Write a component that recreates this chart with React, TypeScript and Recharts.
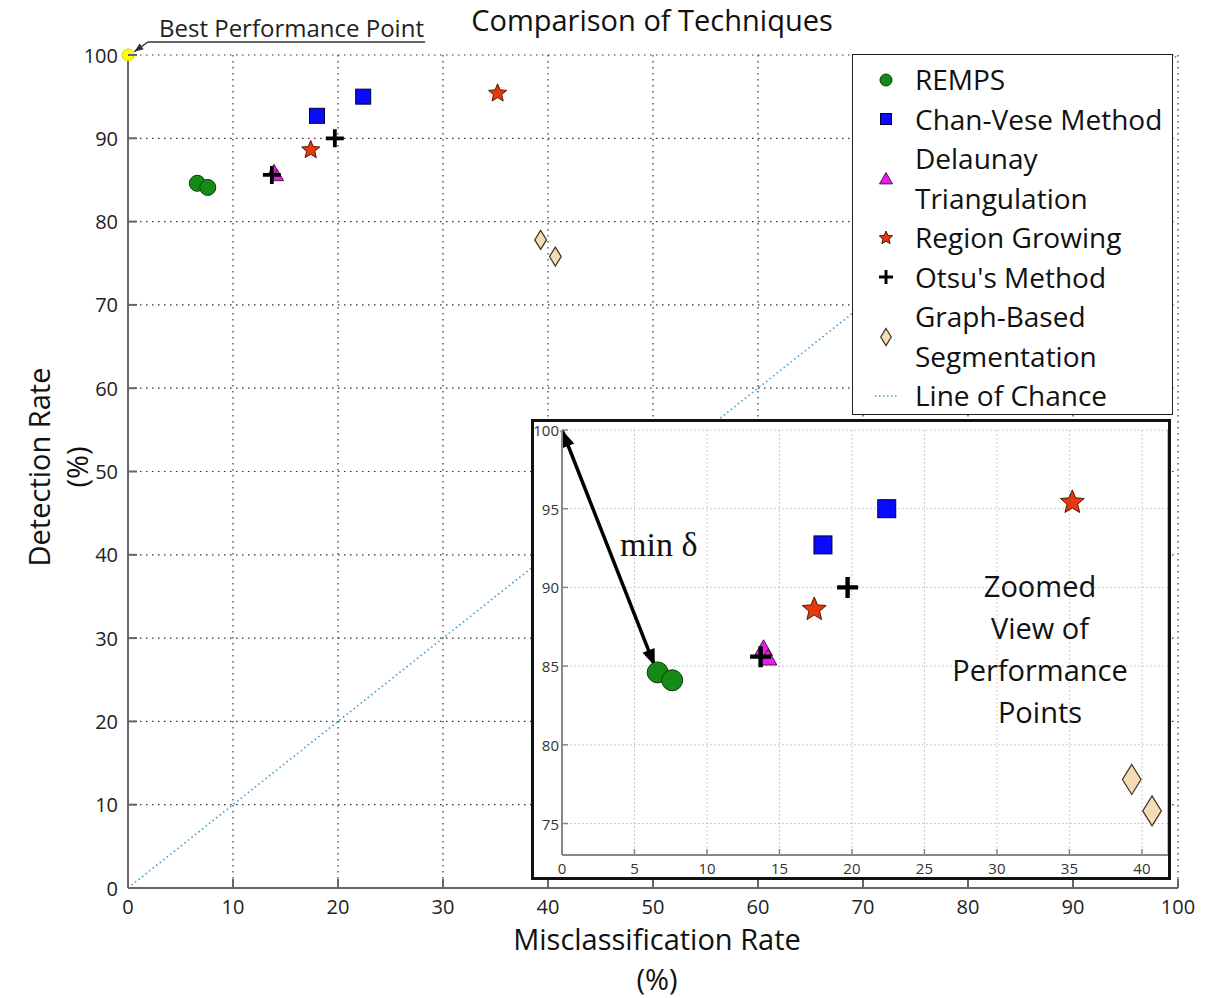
import React from 'react';
import { ScatterChart, Scatter, XAxis, YAxis, CartesianGrid, ReferenceLine, Legend } from 'recharts';

// axis ticks
const mainTicks = [0, 10, 20, 30, 40, 50, 60, 70, 80, 90, 100];
const zoomXTicks = [0, 5, 10, 15, 20, 25, 30, 35, 40];
const zoomYTicks = [75, 80, 85, 90, 95, 100];

// performance points (misclassification %, detection %)
const remps = [{ x: 6.6, y: 84.6 }, { x: 7.6, y: 84.1 }];
const chanVese = [{ x: 18.0, y: 92.7 }, { x: 22.4, y: 95.0 }];
const delaunay = [{ x: 13.9, y: 86.1 }, { x: 14.2, y: 85.5 }];
const regionGrowing = [{ x: 17.4, y: 88.6 }, { x: 35.2, y: 95.4 }];
const otsu = [{ x: 13.7, y: 85.6 }, { x: 19.7, y: 90.0 }];
const graphBased = [{ x: 39.3, y: 77.8 }, { x: 40.7, y: 75.8 }];
const lineOfChance = [{ x: 0, y: 0 }, { x: 100, y: 100 }];
const bestPoint = [{ x: 0, y: 100 }];

// annotations
const bestUnderline = [{ x: 1.9, y: 101.56 }, { x: 28.3, y: 101.56 }];
const bestArrow = [{ x: 1.9, y: 101.56 }, { x: 0.6, y: 100.4 }];
const minDelta = [{ x: 0, y: 100 }, { x: 6.4, y: 85.0 }];

const FONT = '"Open Sans", Lato, sans-serif';
const NARROW = '"Liberation Sans Narrow", "Open Sans", sans-serif';

type Kind = 'circle' | 'square' | 'triangle' | 'star' | 'plus' | 'diamond';

const series: { name: string[]; data: { x: number; y: number }[]; kind: Kind; fill: string; stroke: string; main: number; zoom: number; leg: number }[] = [
  { name: ['REMPS'], data: remps, kind: 'circle', fill: '#168a16', stroke: '#0b3a0b', main: 16, zoom: 21, leg: 12 },
  { name: ['Chan-Vese Method'], data: chanVese, kind: 'square', fill: '#0a0aff', stroke: '#000033', main: 15, zoom: 18, leg: 11 },
  { name: ['Delaunay', 'Triangulation'], data: delaunay, kind: 'triangle', fill: '#e81ee8', stroke: '#4a1a4a', main: 13, zoom: 18, leg: 13 },
  { name: ['Region Growing'], data: regionGrowing, kind: 'star', fill: '#e8380e', stroke: '#4a1a08', main: 19, zoom: 25, leg: 14 },
  { name: ["Otsu's Method"], data: otsu, kind: 'plus', fill: '#000', stroke: '#000', main: 18, zoom: 21, leg: 14 },
  { name: ['Graph-Based', 'Segmentation'], data: graphBased, kind: 'diamond', fill: '#f4dcb4', stroke: '#3a3020', main: 19, zoom: 30, leg: 17 },
];

const Marker = ({ kind, cx, cy, s, fill, stroke }: any) => {
  const h = s / 2;
  if (kind === 'circle') return <circle cx={cx} cy={cy} r={h} fill={fill} stroke={stroke} strokeWidth={1} />;
  if (kind === 'square') return <rect x={cx - h} y={cy - h} width={s} height={s} fill={fill} stroke={stroke} strokeWidth={1} />;
  if (kind === 'triangle')
    return <polygon points={`${cx},${cy - h} ${cx + h},${cy + h * 0.75} ${cx - h},${cy + h * 0.75}`} fill={fill} stroke={stroke} strokeWidth={1} />;
  if (kind === 'star') {
    const pts: string[] = [];
    for (let i = 0; i < 10; i++) {
      const r = i % 2 ? h * 0.45 : h;
      const a = -Math.PI / 2 + (i * Math.PI) / 5;
      pts.push(`${cx + r * Math.cos(a)},${cy + r * Math.sin(a)}`);
    }
    return <polygon points={pts.join(' ')} fill={fill} stroke={stroke} strokeWidth={1} />;
  }
  if (kind === 'plus')
    return <path d={`M${cx - h},${cy}H${cx + h}M${cx},${cy - h}V${cy + h}`} stroke={fill} strokeWidth={Math.max(2.5, s * 0.21)} fill="none" />;
  const w = h * 0.62;
  return <polygon points={`${cx},${cy - h} ${cx + w},${cy} ${cx},${cy + h} ${cx - w},${cy}`} fill={fill} stroke={stroke} strokeWidth={1.2} />;
};

const makeArrow = (both: boolean, sw: number, len: number, hw: number, color: string) => (p: any) => {
  const { x1, y1, x2, y2 } = p;
  const head = (tx: number, ty: number, fx: number, fy: number) => {
    const d = Math.hypot(tx - fx, ty - fy) || 1;
    const ux = (tx - fx) / d;
    const uy = (ty - fy) / d;
    const bx = tx - ux * len;
    const by = ty - uy * len;
    return `${tx},${ty} ${bx - uy * hw},${by + ux * hw} ${bx + uy * hw},${by - ux * hw}`;
  };
  return (
    <g>
      <line x1={x1} y1={y1} x2={x2} y2={y2} stroke={color} strokeWidth={sw} />
      <polygon points={head(x2, y2, x1, y1)} fill={color} />
      {both && <polygon points={head(x1, y1, x2, y2)} fill={color} />}
    </g>
  );
};

const MainYTick = (p: any) => (
  <g>
    <line x1={p.x + 10} x2={p.x + 19} y1={p.y} y2={p.y} stroke="#666" strokeWidth={2} />
    <text x={p.x} y={p.y} textAnchor="end" dominantBaseline="central" fontSize={20} fill="#222" fontFamily={FONT}>
      {p.payload.value}
    </text>
  </g>
);

const MainXTick = (p: any) => (
  <g>
    <line x1={p.x} x2={p.x} y1={p.y - 8} y2={p.y - 17} stroke="#666" strokeWidth={2} />
    <text x={p.x} y={p.y + 1} textAnchor="middle" dominantBaseline="hanging" fontSize={20} fill="#222" fontFamily={FONT}>
      {p.payload.value}
    </text>
  </g>
);

const ZoomYTick = (p: any) => (
  <g>
    <line x1={p.x + 3} x2={p.x + 9} y1={p.y} y2={p.y} stroke="#888" strokeWidth={1.5} />
    <text x={p.x} y={p.y} textAnchor="end" dominantBaseline="central" fontSize={15} fill="#333" fontFamily={NARROW}>
      {p.payload.value}
    </text>
  </g>
);

const ZoomXTick = (p: any) => (
  <g>
    <line x1={p.x} x2={p.x} y1={p.y - 5} y2={p.y - 11} stroke="#888" strokeWidth={1.5} />
    <text x={p.x} y={p.y + 1} textAnchor="middle" dominantBaseline="hanging" fontSize={15} fill="#333" fontFamily={NARROW}>
      {p.payload.value}
    </text>
  </g>
);

const LegendBox = () => (
  <div
    style={{
      width: 321,
      height: 361,
      boxSizing: 'border-box',
      border: '1px solid #222',
      background: '#fff',
      paddingTop: 5,
      fontFamily: FONT,
      fontSize: 28,
      color: '#111',
    }}
  >
    {series.map((s) => (
      <div key={s.name[0]} style={{ display: 'flex', alignItems: 'center', height: 39.5 * s.name.length }}>
        <svg width={62} height={24} style={{ flex: 'none' }}>
          <Marker kind={s.kind} cx={33} cy={12} s={s.leg} fill={s.fill} stroke={s.stroke} />
        </svg>
        <div style={{ lineHeight: '39.5px', whiteSpace: 'nowrap' }}>
          {s.name.map((n) => (
            <div key={n}>{n}</div>
          ))}
        </div>
      </div>
    ))}
    <div style={{ display: 'flex', alignItems: 'center', height: 39.5 }}>
      <svg width={62} height={24} style={{ flex: 'none' }}>
        <line x1={22} x2={45} y1={12} y2={12} stroke="#3d9bd6" strokeWidth={1.5} strokeDasharray="1.5 2.5" />
      </svg>
      <div style={{ lineHeight: '39.5px', whiteSpace: 'nowrap' }}>Line of Chance</div>
    </div>
  </div>
);

export default function App() {
  return (
    <div style={{ position: 'absolute', left: 0, top: 0, width: 1208, height: 998, background: '#fff', fontFamily: FONT, color: '#111' }}>
      <ScatterChart width={1208} height={998} margin={{ top: 55, right: 30, bottom: 70, left: 68 }}>
        <CartesianGrid stroke="#333" strokeDasharray="1.5 4.5" strokeWidth={1.2} />
        <XAxis
          type="number"
          dataKey="x"
          domain={[0, 100]}
          ticks={mainTicks}
          height={40}
          tickSize={0}
          tickLine={false}
          tickMargin={8}
          tick={MainXTick}
          axisLine={{ stroke: '#666', strokeWidth: 2 }}
        />
        <YAxis
          type="number"
          dataKey="y"
          domain={[0, 100]}
          ticks={mainTicks}
          width={60}
          tickSize={0}
          tickLine={false}
          tickMargin={10}
          tick={MainYTick}
          axisLine={{ stroke: '#666', strokeWidth: 2 }}
        />
        <Scatter
          name="Line of Chance"
          data={lineOfChance}
          line={{ stroke: '#3d9bd6', strokeWidth: 1.6, strokeDasharray: '1.5 3' }}
          shape={() => <g />}
          legendType="none"
          isAnimationActive={false}
        />
        <ReferenceLine segment={bestUnderline} stroke="#333" strokeWidth={1.5} ifOverflow="visible" />
        <ReferenceLine segment={bestArrow} ifOverflow="visible" shape={makeArrow(false, 1.5, 9, 3.5, '#333')} />
        <Scatter
          data={bestPoint}
          legendType="none"
          isAnimationActive={false}
          shape={(p: any) => <circle cx={p.cx} cy={p.cy} r={6} fill="#ffff00" stroke="#d8d800" strokeWidth={1} />}
        />
        {series.map((s) => (
          <Scatter
            key={s.name[0]}
            name={s.name.join(' ')}
            data={s.data}
            fill={s.fill}
            isAnimationActive={false}
            shape={(p: any) => <Marker kind={s.kind} cx={p.cx} cy={p.cy} s={s.main} fill={s.fill} stroke={s.stroke} />}
          />
        ))}
        <Legend
          layout="vertical"
          align="center"
          verticalAlign="middle"
          content={LegendBox}
          wrapperStyle={{ left: 852, top: 54, width: 321, height: 361 }}
        />
      </ScatterChart>

      <div style={{ position: 'absolute', left: 0, top: 3, width: 1304, textAlign: 'center', fontSize: 29, lineHeight: '34px' }}>
        Comparison of Techniques
      </div>
      <div style={{ position: 'absolute', left: 159, top: 14, fontSize: 24, lineHeight: '27px', color: '#222' }}>
        Best Performance Point
      </div>
      <div style={{ position: 'absolute', left: 357, top: 919, width: 600, textAlign: 'center', fontSize: 29, lineHeight: '40px' }}>
        <div>Misclassification Rate</div>
        <div>(%)</div>
      </div>
      <div
        style={{
          position: 'absolute',
          left: 57.5 - 150,
          top: 467 - 38,
          width: 300,
          height: 76,
          textAlign: 'center',
          fontSize: 29,
          lineHeight: '38px',
          transform: 'rotate(-90deg)',
          transformOrigin: 'center',
        }}
      >
        <div>Detection Rate</div>
        <div>(%)</div>
      </div>

      <div style={{ position: 'absolute', left: 531, top: 419, width: 640, height: 461, background: '#fff' }}>
        <ScatterChart width={640} height={461} margin={{ top: 11, right: 3, bottom: 0, left: 1 }}>
          <CartesianGrid stroke="#bbb" strokeDasharray="1.5 2.5" strokeWidth={1} />
          <XAxis
            type="number"
            dataKey="x"
            domain={[0, 41.8]}
            ticks={zoomXTicks}
            height={25}
            tickSize={0}
            tickLine={false}
            tickMargin={5}
            tick={ZoomXTick}
            axisLine={{ stroke: '#888', strokeWidth: 2 }}
          />
          <YAxis
            type="number"
            dataKey="y"
            domain={[73, 100]}
            ticks={zoomYTicks}
            width={30}
            tickSize={0}
            tickLine={false}
            tickMargin={3}
            tick={ZoomYTick}
            axisLine={{ stroke: '#888', strokeWidth: 2 }}
          />
          <ReferenceLine x={41.8} stroke="#aaa" strokeWidth={1.5} />
          <ReferenceLine segment={minDelta} ifOverflow="visible" shape={makeArrow(true, 3.5, 17, 6.5, '#000')} />
          {series.map((s) => (
            <Scatter
              key={s.name[0]}
              data={s.data}
              fill={s.fill}
              isAnimationActive={false}
              shape={(p: any) => <Marker kind={s.kind} cx={p.cx} cy={p.cy} s={s.zoom} fill={s.fill} stroke={s.stroke} />}
            />
          ))}
        </ScatterChart>
        <div
          style={{
            position: 'absolute',
            left: 620 - 531,
            top: 545 - 419 - 22,
            fontFamily: '"Liberation Serif", "DejaVu Serif", serif',
            fontSize: 34,
            lineHeight: '44px',
          }}
        >
          min δ
        </div>
        <div
          style={{
            position: 'absolute',
            left: 1040 - 531 - 120,
            top: 565 - 419,
            width: 240,
            textAlign: 'center',
            fontSize: 29,
            lineHeight: '42px',
          }}
        >
          <div>Zoomed</div>
          <div>View of</div>
          <div>Performance</div>
          <div>Points</div>
        </div>
        <div
          style={{
            position: 'absolute',
            left: 0,
            top: 0,
            width: 640,
            height: 461,
            boxSizing: 'border-box',
            border: '3px solid #111',
            pointerEvents: 'none',
          }}
        />
      </div>
    </div>
  );
}
